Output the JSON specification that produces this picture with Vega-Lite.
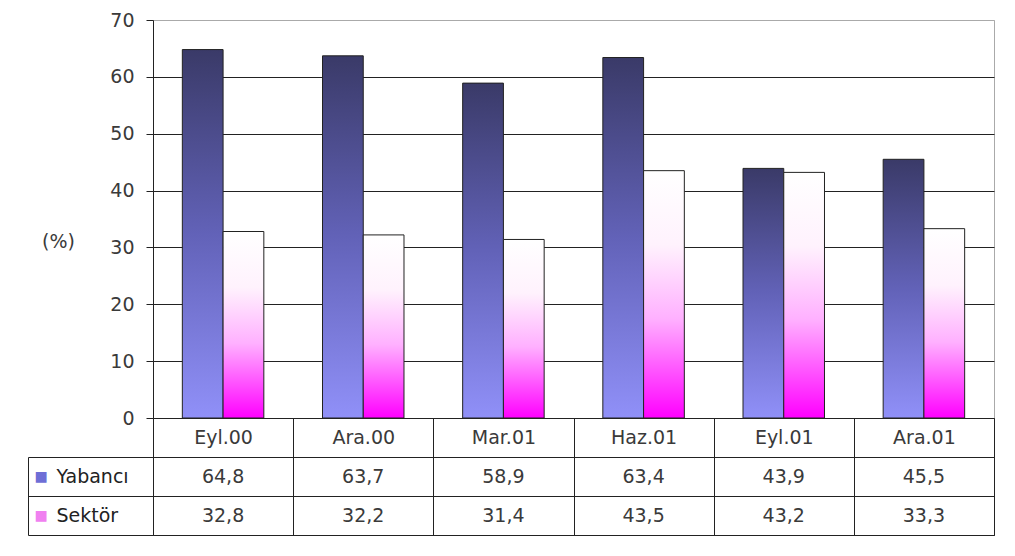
{
  "$schema": "https://vega.github.io/schema/vega-lite/v6.json",
  "padding": {"left": 27, "top": 10, "right": 20, "bottom": 19},
  "background": "white",
  "config": {
    "font": "DejaVu Sans",
    "locale": {"number": {"decimal": ",", "thousands": ".", "grouping": [3], "currency": ["", " TL"]}},
    "concat": {"spacing": 39}
  },
  "datasets": {
    "main": [
      {"period": "Eyl.00", "series": "Yabancı", "value": 64.8},
      {"period": "Ara.00", "series": "Yabancı", "value": 63.7},
      {"period": "Mar.01", "series": "Yabancı", "value": 58.9},
      {"period": "Haz.01", "series": "Yabancı", "value": 63.4},
      {"period": "Eyl.01", "series": "Yabancı", "value": 43.9},
      {"period": "Ara.01", "series": "Yabancı", "value": 45.5},
      {"period": "Eyl.00", "series": "Sektör", "value": 32.8},
      {"period": "Ara.00", "series": "Sektör", "value": 32.2},
      {"period": "Mar.01", "series": "Sektör", "value": 31.4},
      {"period": "Haz.01", "series": "Sektör", "value": 43.5},
      {"period": "Eyl.01", "series": "Sektör", "value": 43.2},
      {"period": "Ara.01", "series": "Sektör", "value": 33.3}
    ]
  },
  "bounds": "flush",
  "spacing": 39,
  "vconcat": [
    {
      "width": 841,
      "height": 398,
      "view": {"stroke": "#aaaaaa", "strokeWidth": 1},
      "data": {"name": "main"},
      "encoding": {
        "x": {
          "field": "period", "type": "nominal",
          "sort": ["Eyl.00", "Ara.00", "Mar.01", "Haz.01", "Eyl.01", "Ara.01"],
          "scale": {"paddingInner": 0, "paddingOuter": 0},
          "axis": {
            "title": null, "orient": "bottom", "tickBand": "extent", "tickSize": 39,
            "tickColor": "#222222", "domainColor": "#222222", "grid": false,
            "labelAngle": 0, "labelFontSize": 19, "labelColor": "#3a3a3a",
            "labelBaseline": "middle", "labelPadding": -19.5
          }
        },
        "xOffset": {
          "field": "series", "type": "nominal", "sort": ["Yabancı", "Sektör"],
          "scale": {"paddingInner": 0, "paddingOuter": 0.72}
        },
        "y": {
          "field": "value", "type": "quantitative",
          "scale": {"domain": [0, 70], "nice": false},
          "axis": {
            "values": [0, 10, 20, 30, 40, 50, 60, 70],
            "grid": true,
            "gridColor": {"condition": {"test": "datum.value === 70", "value": "#aaaaaa"}, "value": "#222222"},
            "domainColor": "#222222", "tickColor": "#222222", "tickSize": 7,
            "labelPadding": 12, "labelFontSize": 19, "labelColor": "#3a3a3a",
            "title": "(%)", "titleAngle": 0, "titleX": -95, "titleY": 221,
            "titleAlign": "center", "titleBaseline": "middle",
            "titleFontWeight": "normal", "titleFontSize": 19, "titleColor": "#3a3a3a"
          }
        }
      },
      "layer": [
        {
          "transform": [{"filter": "datum.series === 'Yabancı'"}],
          "mark": {
            "type": "bar", "stroke": "#222222", "strokeWidth": 1,
            "fill": {"gradient": "linear", "x1": 0, "y1": 0, "x2": 0, "y2": 1,
              "stops": [
                {"offset": 0, "color": "#3a3a68"},
                {"offset": 0.5, "color": "#6262b8"},
                {"offset": 1, "color": "#9090f8"}
              ]}
          }
        },
        {
          "transform": [{"filter": "datum.series === 'Sektör'"}],
          "mark": {
            "type": "bar", "stroke": "#222222", "strokeWidth": 1,
            "fill": {"gradient": "linear", "x1": 0, "y1": 0, "x2": 0, "y2": 1,
              "stops": [
                {"offset": 0, "color": "#ffffff"},
                {"offset": 0.3, "color": "#fff2fd"},
                {"offset": 0.6, "color": "#ffb0ff"},
                {"offset": 1, "color": "#ff00ff"}
              ]}
          }
        }
      ]
    },
    {
      "width": 841,
      "height": 78,
      "view": {"stroke": "#222222", "strokeWidth": 1},
      "data": {"name": "main"},
      "encoding": {
        "x": {
          "field": "period", "type": "nominal",
          "sort": ["Eyl.00", "Ara.00", "Mar.01", "Haz.01", "Eyl.01", "Ara.01"],
          "scale": {"paddingInner": 0, "paddingOuter": 0},
          "axis": {
            "title": null, "grid": true, "gridColor": "#222222", "tickBand": "extent",
            "domain": false, "ticks": false, "labels": false
          }
        },
        "y": {
          "field": "series", "type": "nominal", "sort": ["Yabancı", "Sektör"],
          "scale": {"paddingInner": 0, "paddingOuter": 0}
        }
      },
      "layer": [
        {
          "mark": {"type": "text", "fontSize": 19, "color": "#3a3a3a"},
          "encoding": {
            "text": {"field": "value", "type": "quantitative", "format": ".1f"},
            "y": {
              "field": "series", "type": "nominal", "sort": ["Yabancı", "Sektör"],
              "scale": {"paddingInner": 0, "paddingOuter": 0},
              "axis": {
                "orient": "left", "title": null, "grid": true, "gridColor": "#222222",
                "tickBand": "extent", "tickSize": 125, "tickColor": "#222222",
                "domain": false, "labelAlign": "left", "labelPadding": -28,
                "labelFontSize": 19, "labelColor": "#222222"
              }
            }
          }
        },
        {
          "mark": {"type": "text", "opacity": 0},
          "encoding": {
            "text": {"value": ""},
            "y": {
              "field": "series", "type": "nominal", "sort": ["Yabancı", "Sektör"],
              "scale": {"paddingInner": 0, "paddingOuter": 0},
              "axis": {
                "orient": "left", "offset": 125, "title": null, "grid": false,
                "ticks": false, "domain": true, "domainColor": "#222222",
                "labelExpr": "'■'", "labelAlign": "left", "labelPadding": -6,
                "labelFontSize": 14,
                "labelColor": {"condition": {"test": "datum.value === 'Yabancı'", "value": "#6e6ed6"}, "value": "#f080f0"}
              }
            }
          }
        }
      ],
      "resolve": {"axis": {"y": "independent"}}
    }
  ]
}
